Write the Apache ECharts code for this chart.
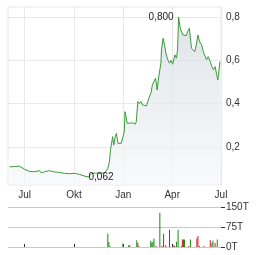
<!DOCTYPE html>
<html><head><meta charset="utf-8">
<script src="https://cdn.jsdelivr.net/npm/echarts@6/dist/echarts.min.js"></script>
<style>html,body{margin:0;padding:0;background:#fff}#c{width:264px;height:255px}</style>
</head><body><div id="c"></div>
<script>
var priceDates = ['2023-06-03','2023-06-12','2023-06-21','2023-06-23','2023-07-01','2023-07-10','2023-07-19','2023-07-29','2023-08-01','2023-08-07','2023-08-16','2023-08-26','2023-09-04','2023-09-13','2023-09-23','2023-10-02','2023-10-11','2023-10-21','2023-10-24','2023-10-28','2023-11-03','2023-11-10','2023-11-18','2023-11-27','2023-12-03','2023-12-06','2023-12-08','2023-12-11','2023-12-12','2023-12-14','2023-12-17','2023-12-19','2023-12-22','2023-12-25','2023-12-28','2023-12-31','2024-01-02','2024-01-03','2024-01-04','2024-01-06','2024-01-08','2024-01-12','2024-01-18','2024-01-23','2024-01-25','2024-01-28','2024-01-31','2024-02-03','2024-02-06','2024-02-13','2024-02-16','2024-02-19','2024-02-22','2024-02-24','2024-02-27','2024-03-01','2024-03-03','2024-03-04','2024-03-07','2024-03-09','2024-03-11','2024-03-12','2024-03-15','2024-03-18','2024-03-21','2024-03-24','2024-03-27','2024-03-30','2024-04-02','2024-04-06','2024-04-09','2024-04-11','2024-04-13','2024-04-15','2024-04-17','2024-04-19','2024-04-21','2024-04-24','2024-04-27','2024-04-30','2024-05-03','2024-05-07','2024-05-10','2024-05-13','2024-05-16','2024-05-19','2024-05-22','2024-05-26','2024-05-29','2024-06-01','2024-06-04','2024-06-07','2024-06-11','2024-06-14','2024-06-17','2024-06-20','2024-06-23','2024-06-25','2024-06-26','2024-06-29'];
var priceValues = [0.109,0.110,0.112,0.117,0.097,0.088,0.086,0.091,0.081,0.086,0.091,0.085,0.083,0.079,0.077,0.079,0.074,0.066,0.075,0.062,0.078,0.080,0.079,0.081,0.100,0.132,0.186,0.232,0.248,0.209,0.248,0.263,0.217,0.209,0.217,0.224,0.263,0.280,0.363,0.340,0.310,0.310,0.312,0.306,0.316,0.410,0.400,0.410,0.394,0.390,0.414,0.417,0.455,0.486,0.502,0.517,0.486,0.463,0.525,0.556,0.587,0.648,0.702,0.667,0.625,0.602,0.587,0.600,0.582,0.625,0.610,0.648,0.800,0.763,0.740,0.748,0.717,0.725,0.714,0.733,0.748,0.656,0.648,0.640,0.671,0.717,0.686,0.671,0.640,0.633,0.602,0.617,0.594,0.571,0.556,0.571,0.533,0.510,0.525,0.594];

var volDates = ['2023-12-03','2023-12-05','2023-12-07','2023-12-31','2024-01-11','2024-01-13','2024-01-26','2024-01-28','2024-01-30','2024-02-21','2024-02-23','2024-02-25','2024-02-27','2024-03-02','2024-03-09','2024-03-13','2024-03-16','2024-03-20','2024-03-27','2024-04-04','2024-04-06','2024-04-09','2024-04-12','2024-04-18','2024-04-20','2024-04-22','2024-04-24','2024-05-02','2024-05-05','2024-05-17','2024-05-19','2024-05-22','2024-05-30','2024-06-11','2024-06-14','2024-06-16','2024-06-20','2024-06-24'];
var volValues = [50,19,4,13,7,7,25,16,3,23,16,20,32,4,128,4,50,7,65,7,4,20,65,4,28,28,28,4,28,32,41,4,4,25,15,23,15,28];
var volUp = [1,1,1,1,1,0,1,0,0,1,1,1,1,0,1,0,0,0,0,1,0,1,1,0,0,0,1,0,1,0,0,0,0,0,1,1,0,1];

var xTickDates = ['2023-07-01','2023-10-01','2024-01-01','2024-04-01','2024-07-01'];
var xTickLabels = ['Jul','Okt','Jan','Apr','Jul'];
var yTicks = [0.2,0.4,0.6,0.8];
var volTicks = [0,75,150];

function ts(s){var p=s.split('-');return new Date(+p[0],+p[1]-1,+p[2]).getTime();}
var xTickTs = xTickDates.map(ts);
var xMin = ts('2023-05-31'), xMax = ts('2024-07-01');

var priceData = priceDates.map(function(d,i){return [ts(d), priceValues[i]];});
var volData = volDates.map(function(d,i){return {value:[ts(d), volValues[i]], itemStyle:{color: volUp[i] ? '#1a8a1a' : '#c42020'}};});

function fmtNum(v,dec){return v.toFixed(dec).replace('.',',');}

var FONT = 'Liberation Sans, Arial, sans-serif';
var chart = echarts.init(document.getElementById('c'), null, {renderer:'canvas'});
chart.setOption({
  animation:false,
  backgroundColor:'#fff',
  textStyle:{fontFamily:FONT},
  grid:[
    {left:8, right:43, top:7, height:178, show:true, borderColor:'#e8e8e8', borderWidth:1, backgroundColor:'transparent'},
    {left:8, right:43, top:207, height:40, show:false}
  ],
  xAxis:[
    {type:'value', gridIndex:0, min:xMin, max:xMax,
     axisLine:{show:false},
     axisTick:{show:false, customValues:xTickTs},
     splitLine:{show:true, lineStyle:{color:'#e8e8e8', width:1}},
     axisLabel:{customValues:xTickTs, fontSize:10, color:'#333', margin:5, fontFamily:FONT,
       formatter:function(v){var i=xTickTs.indexOf(v);return i>=0?xTickLabels[i]:'';}}
    },
    {type:'value', gridIndex:1, min:xMin, max:xMax, position:'top',
     axisLine:{show:false},
     axisTick:{show:true, length:3, customValues:xTickTs.slice(0,4), lineStyle:{color:'#333'}},
     splitLine:{show:false},
     axisLabel:{show:false}
    }
  ],
  yAxis:[
    {type:'value', gridIndex:0, position:'right', min:0.025, max:0.846,
     axisLine:{show:false},
     axisTick:{show:false, customValues:yTicks},
     splitLine:{show:true, lineStyle:{color:'#e8e8e8', width:1}},
     axisLabel:{customValues:yTicks, fontSize:10, color:'#333', margin:5, fontFamily:FONT,
       formatter:function(v){return fmtNum(v,1);}}
    },
    {type:'value', gridIndex:1, position:'right', min:0, max:150, interval:75,
     axisLine:{show:false},
     axisTick:{show:true, length:4, lineStyle:{color:'#333'}},
     splitLine:{show:true, lineStyle:{color:'#c8c8c8', width:1}},
     axisLabel:{fontSize:10, color:'#333', margin:5, fontFamily:FONT,
       formatter:function(v){return v+'T';}}
    }
  ],
  series:[
    {type:'line', xAxisIndex:0, yAxisIndex:0, data:priceData, showSymbol:false, symbol:'none',
     lineStyle:{color:'#3a9a3a', width:1},
     areaStyle:{origin:'start', color:new echarts.graphic.LinearGradient(0,0,0,1,[{offset:0,color:'#d2d9e0'},{offset:1,color:'#f7f8fa'}])},
     markPoint:{symbol:'circle', symbolSize:0, silent:true,
       data:[
         {type:'max', label:{position:'left', distance:5}},
         {type:'min', label:{position:'right', distance:0}}
       ],
       label:{show:true, fontSize:10, color:'#222', fontFamily:FONT,
         formatter:function(p){return fmtNum(p.value,3);}}
     }
    },
    {type:'bar', xAxisIndex:1, yAxisIndex:1, data:volData, barWidth:1}
  ]
});
</script>
</body></html>
